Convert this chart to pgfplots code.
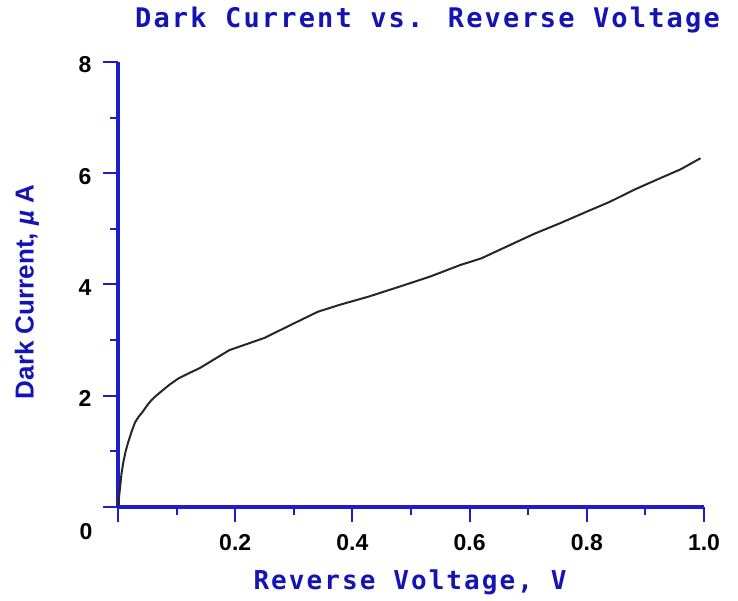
\documentclass[border=0pt]{standalone}
\usepackage{pgfplots}
\pgfplotsset{compat=1.18}
\usepackage{fontspec}
\setmainfont{Liberation Sans}
\newfontfamily\monob{DejaVu Sans Mono}[LetterSpace=8]
\definecolor{axblue}{RGB}{30,30,200}
\definecolor{txtblue}{RGB}{20,20,180}
\begin{document}
\begin{tikzpicture}[x=1pt,y=1pt]
\path[use as bounding box] (0,0) rectangle (738,601);
\begin{axis}[
  at={(118pt,94pt)}, anchor=south west,
  width=586pt, height=445pt, scale only axis,
  xmin=0, xmax=1, ymin=0, ymax=8,
  axis lines=left,
  axis line style={-, line width=3.5pt, draw=axblue},
  every outer x axis line/.append style={line width=3.5pt},
  every outer y axis line/.append style={line width=3.5pt},
  xtick={0,0.2,0.4,0.6,0.8,1.0},
  minor xtick={0.1,0.3,0.5,0.7,0.9},
  ytick={0,2,4,6,8},
  minor ytick={1,3,5,7},
  xticklabels={,0.2,0.4,0.6,0.8,1.0},
  yticklabels={,2,4,6,8},
  tick align=outside,
  major tick length=15pt, minor tick length=8pt,
  tick style={draw=axblue, line width=2pt},
  tick label style={font=\fontsize{23}{23}\selectfont\bfseries, text=black},
  xticklabel style={yshift=-9pt},
  yticklabel style={xshift=-8pt, yshift=-3pt},
  clip=false,
]
\addplot[black!85, line width=2pt] coordinates {
(0,0) (0.003,0.3) (0.006,0.6) (0.009,0.8) (0.013,1.0) (0.017,1.15) (0.023,1.35)
(0.029,1.52) (0.035,1.62) (0.042,1.71) (0.05,1.83) (0.057,1.92) (0.065,2.0)
(0.073,2.07) (0.088,2.2) (0.103,2.31) (0.12,2.4) (0.14,2.5) (0.165,2.66)
(0.19,2.82) (0.22,2.93) (0.25,3.04) (0.3,3.3) (0.341,3.51) (0.38,3.64)
(0.427,3.78) (0.48,3.96) (0.532,4.14) (0.584,4.35) (0.62,4.47) (0.669,4.71)
(0.71,4.91) (0.754,5.10) (0.8,5.31) (0.84,5.49) (0.88,5.70) (0.925,5.91)
(0.96,6.07) (0.994,6.27)
};
\node[font=\fontsize{23}{23}\selectfont\bfseries, text=black] at (axis cs:0,0) [xshift=-32pt, yshift=-25pt] {0};
\end{axis}
\node[font=\monob\bfseries\fontsize{27}{27}\selectfont, text=txtblue] at (427.5,581) {Dark Current vs. Reverse Voltage};
\node[font=\monob\bfseries\fontsize{26}{26}\selectfont, text=txtblue] at (410,19) {Reverse Voltage, V};
\node[font=\bfseries\fontsize{26}{26}\selectfont, text=txtblue, rotate=90] at (27,309) {Dark Current, \textit{µ} A};
\end{tikzpicture}
\end{document}
